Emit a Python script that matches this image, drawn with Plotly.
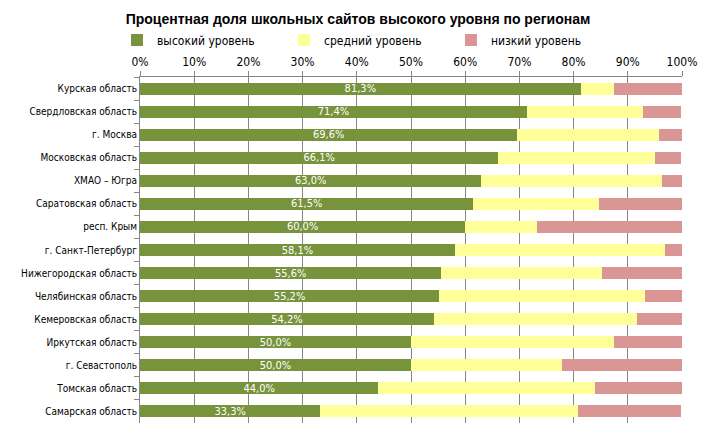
import plotly.graph_objects as go

regions = ["Курская область", "Свердловская область", "г. Москва", "Московская область",
           "ХМАО – Югра", "Саратовская область", "респ. Крым", "г. Санкт-Петербург",
           "Нижегородская область", "Челябинская область", "Кемеровская область",
           "Иркутская область", "г. Севастополь", "Томская область", "Самарская область"]
high = [81.3, 71.4, 69.6, 66.1, 63.0, 61.5, 60.0, 58.1, 55.6, 55.2, 54.2, 50.0, 50.0, 44.0, 33.3]
mid = [6.2, 21.4, 26.1, 29.0, 33.3, 23.1, 13.3, 38.7, 29.6, 37.9, 37.5, 37.5, 27.8, 40.0, 47.6]
low = [12.5, 7.1, 4.3, 4.8, 3.7, 15.4, 26.7, 3.2, 14.8, 6.9, 8.3, 12.5, 22.2, 16.0, 19.0]
series_names = ["высокий уровень", "средний уровень", "низкий уровень"]
tick_vals = [0, 10, 20, 30, 40, 50, 60, 70, 80, 90, 100]
tick_text = [f"{v}%" for v in tick_vals]

colors = ["#77933C", "#FFFF99", "#D99694"]
FONT = "Liberation Sans Narrow, Arial Narrow, DejaVu Sans Condensed, sans-serif"

W, H = 703, 435  # page body has an 8px margin
legend_ids = ["legend", "legend2", "legend3"]
legend_x = [109, 276, 443]

fig = go.Figure()
for name, vals, col, lid in zip(series_names, [high, mid, low], colors, legend_ids):
    kw = {}
    if vals is high:
        kw = dict(text=[f"{v:.1f}%".replace(".", ",") for v in vals],
                  textposition="inside", insidetextanchor="middle", textangle=0,
                  insidetextfont=dict(color="white", size=11, family=FONT),
                  constraintext="none")
    fig.add_trace(go.Bar(y=regions, x=vals, name=name, orientation="h",
                         marker=dict(color=col, line=dict(width=0)), legend=lid,
                         width=0.52, hoverinfo="skip", **kw))

legend_common = dict(orientation="h", xref="container", yref="container",
                     xanchor="left", y=1 - 32 / H, yanchor="middle",
                     font=dict(family=FONT, size=12), itemwidth=30,
                     bgcolor="rgba(0,0,0,0)")
fig.update_layout(
    barmode="stack",
    width=W, height=H,
    margin=dict(l=132, r=29, t=69, b=20, autoexpand=False),
    paper_bgcolor="white", plot_bgcolor="white",
    font=dict(family=FONT, size=11, color="#000000"),
    title=dict(text="<b>Процентная доля школьных сайтов высокого уровня по регионам</b>",
               x=350 / W, xanchor="center", xref="container",
               y=1 - 11 / H, yanchor="middle", yref="container",
               font=dict(family="Liberation Sans, Arial, sans-serif", size=14, color="#000000")),
    legend=dict(x=legend_x[0] / W, **legend_common),
    legend2=dict(x=legend_x[1] / W, **legend_common),
    legend3=dict(x=legend_x[2] / W, **legend_common),
    showlegend=True,
)
fig.update_xaxes(side="top", range=[0, 100], tickvals=tick_vals, ticktext=tick_text,
                 showgrid=True, gridcolor="#868686", gridwidth=1,
                 showline=True, linecolor="#868686", ticks="outside", ticklen=5,
                 tickcolor="#868686", tickfont=dict(family=FONT, size=12), zeroline=False,
                 automargin=False, fixedrange=True)
fig.update_yaxes(autorange="reversed", showline=True, linecolor="#868686",
                 ticks="outside", tickson="boundaries", ticklen=5, tickcolor="#868686",
                 showgrid=False, tickfont=dict(family=FONT, size=10), automargin=False)

fig.write_html("out.html")
